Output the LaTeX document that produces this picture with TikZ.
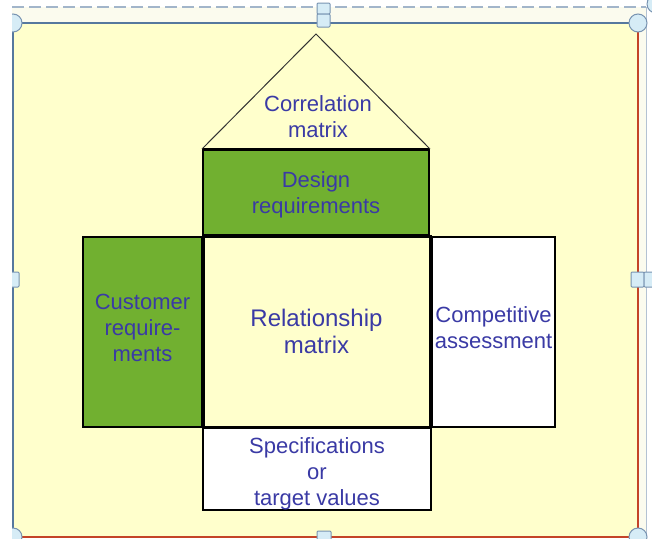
\documentclass[tikz,border=0pt]{standalone}
\usepackage{fontspec}
\setmainfont{Liberation Sans}
\definecolor{custom-yellow}{RGB}{255, 255, 204}
\definecolor{custom-green}{RGB}{113, 176, 48}
\definecolor{custom-text}{RGB}{58, 58, 165}
\definecolor{custom-frame}{RGB}{86, 120, 158}
\definecolor{custom-red}{RGB}{196, 68, 40}
\definecolor{custom-handle}{RGB}{214, 236, 246}
\definecolor{custom-pale}{RGB}{251, 251, 238}

\begin{document}
\begin{tikzpicture}[x=1pt, y=-1pt,
    block/.style={rectangle, draw=black, line width=2pt, inner sep=0pt, align=center,
      text=custom-text, font=\fontsize{22}{26}\selectfont},
    handle/.style={draw=custom-frame!80, fill=custom-handle, line width=1pt},
    label/.style={align=center, text=custom-text, font=\fontsize{22}{26}\selectfont}]
\useasboundingbox (0,0) rectangle (652,538);
\begin{scope}
\clip (12,0) rectangle (652,538);
% outer frame and slide area
\fill[custom-pale] (12,7) rectangle (646,538);
\draw[custom-frame!55, dash pattern=on 12pt off 5pt, line width=1.5pt] (12,7) -- (646,7);
\draw[custom-frame!45, line width=1pt] (646,7) -- (646,538);
\fill[custom-yellow] (13,23) rectangle (638,537);
\draw[custom-frame, line width=2pt] (13,537) -- (13,23) -- (638,23);
\draw[custom-red, line width=2.5pt] (638,23) -- (638,537) -- (13,537);

% the house
\node[block, fill=custom-green, minimum width=119, minimum height=190] (customer) at (142.5,332)
  {Customer\\require-\\ments\rule[-8pt]{0pt}{8pt}};
\node[block, fill=white, line width=1.5pt, minimum width=123, minimum height=190] (compet) at (493.5,332)
  {Competitive\\assessment\rule[-8pt]{0pt}{8pt}};
\node[block, fill=custom-green, minimum width=226, minimum height=85] (design) at (316,192.5)
  {\rule{0pt}{20pt}Design\\requirements};
\node[block, fill=white, minimum width=228, minimum height=83] (spec) at (317,466.5)
  {\rule{0pt}{30pt}Specifications\\or\\target values};
\node[block, fill=custom-yellow, line width=3pt, minimum width=227, minimum height=191,
  font=\fontsize{24}{27}\selectfont] (rel) at (316.5,331.5) {Relationship\\matrix};
\draw[line width=3pt] (design.north west) -- (design.north east);

% roof
\coordinate (apex) at (316,34);
\draw[black!80, line width=1pt] (design.north west) -- (apex) -- (design.north east);
\node[label] (corr) at (318,117) {Correlation\\matrix};

% handles
\foreach \x/\y in {13/23, 638/23, 13/537, 638/537, 656/4}
  \filldraw[handle] (\x,\y) circle (9);
\filldraw[handle, rounded corners=1pt] (317,3) rectangle (330,14);
\filldraw[handle, rounded corners=1pt] (317,14) rectangle (330,27);
\filldraw[handle, rounded corners=1pt] (6,272) rectangle (19,287);
\filldraw[handle, rounded corners=1pt] (631,272) rectangle (644,287);
\filldraw[handle, rounded corners=1pt] (644,272) rectangle (657,287);
\filldraw[handle, rounded corners=1pt] (317,531) rectangle (331,545);
\end{scope}
\end{tikzpicture}
\end{document}
